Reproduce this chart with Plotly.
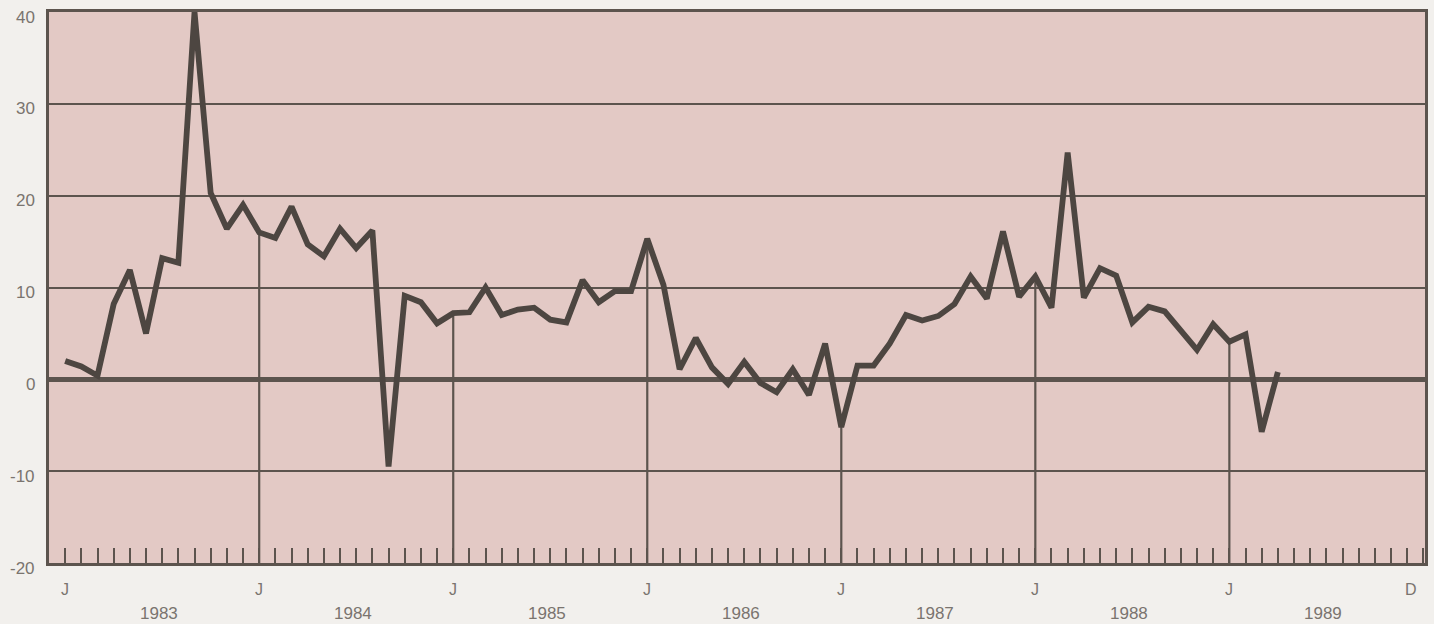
import plotly.graph_objects as go

# ---- data (monthly, Jan 1983 .. Apr 1989) ----
years = [1983, 1984, 1985, 1986, 1987, 1988, 1989]
values_1983 = [2.0, 1.4, 0.4, 8.2, 11.9, 5.0, 13.2, 12.7, 40.0, 20.3, 16.4, 19.0]
values_1984 = [16.0, 15.4, 18.8, 14.7, 13.4, 16.4, 14.3, 16.2, -9.5, 9.1, 8.4, 6.1]
values_1985 = [7.2, 7.3, 10.0, 7.0, 7.6, 7.8, 6.5, 6.2, 10.8, 8.4, 9.6, 9.6]
values_1986 = [15.3, 10.3, 1.1, 4.5, 1.3, -0.5, 1.9, -0.4, -1.4, 1.1, -1.7, 3.9]
values_1987 = [-5.2, 1.5, 1.5, 3.9, 7.0, 6.4, 6.9, 8.2, 11.2, 8.8, 16.1, 9.0]
values_1988 = [11.2, 7.8, 24.7, 8.9, 12.1, 11.3, 6.2, 7.9, 7.4, 5.2, 3.2, 6.0]
values_1989 = [4.1, 4.9, -5.7, 0.8]

y_ticks = [40, 30, 20, 10, 0, -10, -20]
y_tick_labels = ["40", "30", "20", "10", "0", "-10", "-20"]

values = (values_1983 + values_1984 + values_1985 + values_1986
          + values_1987 + values_1988 + values_1989)
months = list(range(len(values)))          # 0 = Jan 1983
n_months_axis = 12 * len(years)            # Jan 1983 .. Dec 1989
jan_idx = [12 * i for i in range(len(years))]

LINE = "#4d4641"
GRID = "#5c544e"
TEXT = "#7a746f"
FONT = "Liberation Sans, Arial, sans-serif"

fig = go.Figure()

# drop lines from each January (after the first) down to the bottom axis
dx, dy = [], []
for j in jan_idx[1:]:
    if j < len(values):
        dx += [j, j, None]
        dy += [-20, values[j], None]
fig.add_trace(go.Scatter(x=dx, y=dy, mode="lines",
                         line=dict(color=GRID, width=2.2),
                         hoverinfo="skip", showlegend=False))

# main series
fig.add_trace(go.Scatter(x=months, y=values, mode="lines",
                         line=dict(color=LINE, width=5.8),
                         showlegend=False))

annotations = []
# y labels
for v, t in zip(y_ticks, y_tick_labels):
    annotations.append(dict(x=0, xref="paper", y=v, yref="y", text=t,
                            xanchor="right", yanchor="middle", xshift=-12, yshift=-5,
                            showarrow=False, font=dict(family=FONT, size=17, color=TEXT)))
# J labels + D
for j in jan_idx:
    annotations.append(dict(x=j, xref="x", y=0, yref="paper", text="J",
                            xanchor="center", yanchor="middle", yshift=-26,
                            showarrow=False, font=dict(family=FONT, size=16, color=TEXT)))
annotations.append(dict(x=n_months_axis - 1, xref="x", y=0, yref="paper", text="D",
                        xanchor="center", yanchor="middle", yshift=-26, xshift=4,
                        showarrow=False, font=dict(family=FONT, size=16, color=TEXT)))
# year labels
for j, yr in zip(jan_idx, years):
    annotations.append(dict(x=j + 5.8, xref="x", y=0, yref="paper", text=str(yr),
                            xanchor="center", yanchor="middle", yshift=-50,
                            showarrow=False, font=dict(family=FONT, size=17, color=TEXT)))

fig.update_layout(
    width=1434, height=624,
    margin=dict(l=49, r=6, t=12, b=61),
    paper_bgcolor="#f2f0ed",
    plot_bgcolor="#e3c9c5",
    annotations=annotations,
    xaxis=dict(range=[-1.0, n_months_axis + 0.1], showgrid=False, zeroline=False,
               showline=True, linecolor=GRID, linewidth=3, mirror=True,
               tickvals=jan_idx, ticktext=["" for _ in jan_idx],
               ticks="inside", ticklen=15, tickwidth=2, tickcolor=GRID,
               minor=dict(dtick=1, tick0=0, ticks="inside", ticklen=15,
                          tickwidth=2, tickcolor=GRID, showgrid=False)),
    yaxis=dict(range=[-20, 40], tickvals=y_ticks, showticklabels=False,
               showgrid=True, gridcolor=GRID, gridwidth=2.2,
               zeroline=True, zerolinecolor=GRID, zerolinewidth=4.5,
               showline=True, linecolor=GRID, linewidth=3, mirror=True,
               ticks=""),
)

fig.write_html(
    "out.html",
    config={"displayModeBar": False},
    post_script="document.body.style.margin='0';document.body.style.overflow='hidden';",
)
